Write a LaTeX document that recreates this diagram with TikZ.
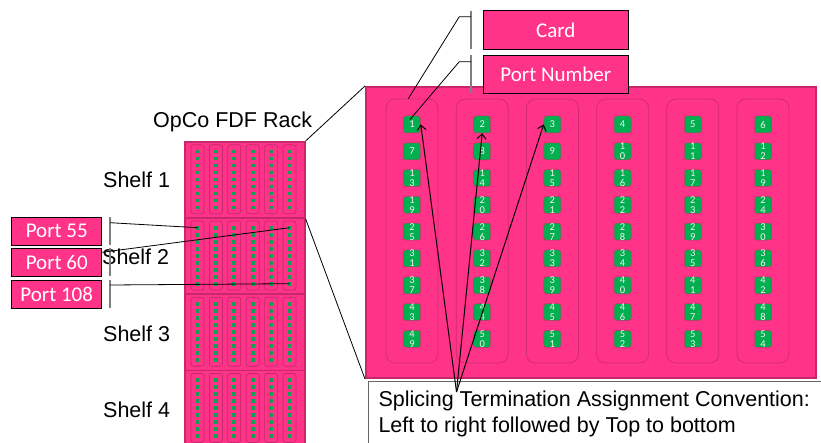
\documentclass[tikz,border=0pt]{standalone}
\usepackage{fontspec}
\setmainfont{Liberation Sans}
\newfontfamily\carlito{Carlito}
\usetikzlibrary{arrows.meta}
\definecolor{hpink}{HTML}{FF3388}
\definecolor{dpink}{HTML}{C8286A}
\definecolor{cpink}{HTML}{D02C6C}
\definecolor{pgreen}{HTML}{00B050}
\definecolor{rgreen}{HTML}{10A050}
\begin{document}
\begin{tikzpicture}[x=1pt,y=-1pt,
  panel/.style={draw=dpink, line width=2pt, fill=hpink, inner sep=0pt},
  cardbox/.style={draw=cpink, line width=0.7pt, rounded corners=9pt, minimum width=52pt, minimum height=264pt, inner sep=0pt},
  portbox/.style={fill=pgreen, draw=cpink, line width=0.5pt, rounded corners=2.5pt, minimum size=17pt, inner sep=0pt, font=\carlito\fontsize{10.5}{10}\selectfont, text=white!90!hpink, align=center},
  shelfbox/.style={draw=dpink, line width=1.6pt, fill=hpink, minimum width=120pt, minimum height=76.2pt, inner sep=0pt, anchor=north west},
  rcard/.style={draw=dpink, line width=0.7pt, rounded corners=2.5pt, minimum width=13pt, minimum height=69pt, inner sep=0pt},
  rport/.style={fill=rgreen, minimum size=3.7pt, inner sep=0pt},
  callbox/.style={draw=black, line width=0.6pt, fill=hpink, text=white, font=\carlito\fontsize{21}{24}\selectfont, inner sep=0pt},
  accent/.style={draw=gray, line width=1.3pt},
  lead/.style={draw=black, line width=0.8pt},
  arr/.style={draw=black, line width=1pt, -{Straight Barb[length=5pt,width=9pt]}},
  lbl/.style={font=\fontsize{21.5}{26}\selectfont, inner sep=0pt, text=black},
]
\useasboundingbox (0,0) rectangle (821,443);

% ---------------- rack ----------------
\foreach \s in {1,...,4}{
  \pgfmathsetmacro\st{141+76.2*(\s-1)}
  \node[shelfbox] (sh\s) at (184,\st) {};
  \foreach \c in {1,...,6}{
    \pgfmathsetmacro\cx{197.5+18.4*(\c-1)}
    \node[rcard] (rc\s-\c) at ({\cx},{\st+38.3}) {};
    \foreach \k in {1,...,9}{
      \pgfmathsetmacro\ky{\st+10.5+7*(\k-1)}
      \node[rport] (r\s-\c-\k) at ({\cx},{\ky}) {};
    }
  }
}

\node[lbl, anchor=base west] (rack) at (153,128) {OpCo FDF Rack};
\node[lbl, anchor=base west] (s1) at (103,188) {Shelf 1};
\node[lbl, anchor=base west] (s2) at (102,265) {Shelf 2};
\node[lbl, anchor=base west] (s3) at (103,341) {Shelf 3};
\node[lbl, anchor=base west] (s4) at (103,417) {Shelf 4};

% ---------------- big panel ----------------
\node[panel, minimum width=450pt, minimum height=291pt, anchor=north west] (panel) at (365,86) {};
\foreach \c in {1,...,6}{
  \pgfmathsetmacro\ccx{412+70.2*(\c-1)}
  \node[cardbox] (c\c) at ({\ccx},231) {};
}
\foreach \r in {1,...,9}{
  \foreach \c in {1,...,6}{
    \pgfmathtruncatemacro\n{6*(\r-1)+\c}
    \pgfmathtruncatemacro\m{\n}
    \ifnum\n=18 \def\m{19}\fi
    \pgfmathtruncatemacro\tens{\m/10}
    \pgfmathtruncatemacro\units{\m-10*\tens}
    \ifnum\m<10 \edef\lab{\m}\else\edef\lab{\tens\noexpand\\\units}\fi
    \pgfmathsetmacro\px{412+70.2*(\c-1)}
    \pgfmathsetmacro\py{124.5+26.8*(\r-1)}
    \node[portbox] (p\n) at ({\px},{\py}) {\lab};
  }
}

% rack-to-panel lines
\draw[lead] (sh1.north east) -- (panel.north west);
\draw[lead] (sh1.south east) -- (panel.south west);

% ---------------- top callouts ----------------
\node[callbox, minimum width=145pt, minimum height=38.3pt] (card) at (555.8,29.8) {Card};
\node[callbox, minimum width=145pt, minimum height=38.3pt] (pnum) at (555.8,74.2) {Port Number};
\coordinate (a1t) at (471,10.7); \coordinate (a1b) at (471,49);
\coordinate (a2t) at (471,55);   \coordinate (a2b) at (471,93.3);
\draw[accent] (a1t) -- (a1b);
\draw[accent] (a2t) -- (a2b);
\coordinate (k1a) at (471,16.7); \coordinate (k1b) at (459.3,16.7);
\coordinate (k2a) at (471,61.7); \coordinate (k2b) at (459.3,61.7);
\draw[lead] (k1a) -- (k1b) -- ([xshift=-3.7pt]c1.north);
\draw[lead] (k2a) -- (k2b) -- ([xshift=-2pt,yshift=5pt]p1.center);

% ---------------- port callouts ----------------
\node[callbox, minimum width=90pt, minimum height=27.7pt] (l55) at (56.7,231.2) {Port 55};
\node[callbox, minimum width=90pt, minimum height=27.7pt] (l60) at (56.7,262.2) {Port 60};
\node[callbox, minimum width=90pt, minimum height=28.3pt] (l108) at (56.7,294.2) {Port 108};
\coordinate (b1t) at (110,217.3); \coordinate (b1b) at (110,245);
\coordinate (b2t) at (110,248.3); \coordinate (b2b) at (110,276);
\coordinate (b3t) at (110,280);   \coordinate (b3b) at (110,308.3);
\draw[accent] (b1t) -- (b1b);
\draw[accent] (b2t) -- (b2b);
\draw[accent] (b3t) -- (b3b);
\coordinate (e55) at (110,222.7);
\coordinate (e60) at (102,252.3);
\coordinate (e108) at (110,285);
\draw[lead] (e55) -- (r2-1-1.center);
\draw[lead] (e60) -- (r2-6-1.center);
\draw[lead] (e108) -- (r2-6-9.center);

% ---------------- convention box ----------------
\node[draw=gray!80!black, line width=0.7pt, fill=white, anchor=north west, minimum width=470pt, minimum height=80pt, inner sep=0pt] (convbox) at (368.3,380.7) {};
\node[lbl, anchor=base west] (conv1) at (378.3,406.7) {Splicing Termination Assignment Convention:};
\node[lbl, anchor=base west] (conv2) at (378.3,432.7) {Left to right followed by Top to bottom};
\coordinate (apex) at (456.5,392);
\draw[arr] (apex) -- (p1.east);
\draw[arr] (apex) -- (p2.south);
\draw[arr] (apex) -- (p3.west);
\end{tikzpicture}
\end{document}
